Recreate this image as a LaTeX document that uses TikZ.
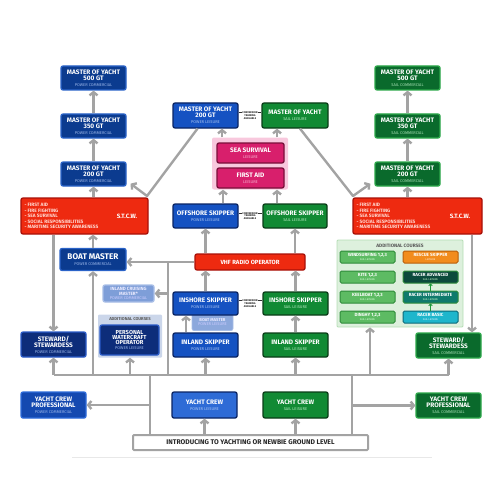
\documentclass[tikz,border=0pt]{standalone}
\usepackage{fontspec}
\setmainfont{Fira Sans}
\usetikzlibrary{arrows.meta,calc}
\definecolor{pcF}{HTML}{0B3B8F}\definecolor{pcD}{HTML}{2A63C8}\definecolor{pcS}{HTML}{9DB8EA}
\definecolor{plF}{HTML}{1552C2}\definecolor{plD}{HTML}{0A2463}\definecolor{plS}{HTML}{A9C4F2}
\definecolor{scF}{HTML}{0A6A2C}\definecolor{scD}{HTML}{2DA84A}\definecolor{scS}{HTML}{A8E0B5}
\definecolor{slF}{HTML}{118A34}\definecolor{slD}{HTML}{0A3D18}\definecolor{slS}{HTML}{B5EBC0}
\definecolor{redF}{HTML}{EE2A10}\definecolor{redD}{HTML}{A81008}\definecolor{listc}{HTML}{FFD9D2}
\definecolor{pinkB}{HTML}{F8C8DD}\definecolor{pinkF}{HTML}{D81F6C}\definecolor{pinkD}{HTML}{7A0F3A}\definecolor{pinkS}{HTML}{F7B6D2}
\definecolor{stwF}{HTML}{0D2D7A}\definecolor{stwD}{HTML}{2A5BC8}
\definecolor{ycF}{HTML}{2E6BD6}\definecolor{ycpF}{HTML}{1449B0}\definecolor{ycpD}{HTML}{2D6BDA}
\definecolor{icmF}{HTML}{7E9ED8}\definecolor{icmD}{HTML}{A8BEE6}\definecolor{bmlF}{HTML}{8CA8DC}
\definecolor{addPB}{HTML}{CBD6EA}\definecolor{addRB}{HTML}{DDF0DD}\definecolor{addRD}{HTML}{B5DDB5}
\definecolor{giF}{HTML}{5DBB63}\definecolor{giD}{HTML}{2E8B3A}
\definecolor{orF}{HTML}{F28C1C}\definecolor{orD}{HTML}{B85E0A}
\definecolor{raF}{HTML}{0C4A3C}\definecolor{riF}{HTML}{0F7A6C}\definecolor{rbF}{HTML}{1EB6CC}\definecolor{rbD}{HTML}{0C6A78}
\definecolor{arr}{HTML}{A3A3A3}\definecolor{sepc}{HTML}{E8E8E8}\definecolor{grarr}{HTML}{1E9A3A}
\colorlet{subc}{white}
\newcommand{\titlef}{\fontsize{6.5}{5.9}\selectfont\bfseries}
\newcommand{\subl}[1]{\\{\fontsize{4}{4.2}\selectfont\mdseries\color{subc}#1}}
\newcommand{\subs}[1]{\\{\fontsize{2.6}{2.7}\selectfont\mdseries\color{subc}#1}}
\tikzset{
 wh/.style 2 args={minimum width=#1pt, minimum height=#2pt},
 box/.style={rectangle, rounded corners=2pt, line width=1.3pt, inner sep=0pt, align=center, text=white, font=\titlef},
 pc/.style={box, fill=pcF, draw=pcD, execute at begin node={\colorlet{subc}{pcS}}},
 pl/.style={box, fill=plF, draw=plD, execute at begin node={\colorlet{subc}{plS}}},
 sc/.style={box, fill=scF, draw=scD, execute at begin node={\colorlet{subc}{scS}}},
 sl/.style={box, fill=slF, draw=slD, execute at begin node={\colorlet{subc}{slS}}},
 redbox/.style={box, fill=redF, draw=redD},
 pinkbg/.style={rectangle, fill=pinkB, rounded corners=2pt},
 pinkbox/.style={box, fill=pinkF, draw=pinkD, execute at begin node={\colorlet{subc}{pinkS}}},
 stw/.style={box, fill=stwF, draw=stwD, execute at begin node={\colorlet{subc}{pcS}}},
 ycp/.style={box, fill=ycpF, draw=ycpD, execute at begin node={\colorlet{subc}{pcS}}},
 yc/.style={box, fill=ycF, draw=plD, execute at begin node={\colorlet{subc}{plS}}},
 icmbox/.style={box, fill=icmF, draw=icmD, text=white!92!blue, font=\fontsize{4.6}{4.4}\selectfont\bfseries, execute at begin node={\colorlet{subc}{white!80!blue}}},
 bmlbox/.style={box, line width=0.8pt, fill=bmlF, draw=icmD, text=white!92!blue, font=\fontsize{4.2}{4}\selectfont\bfseries, execute at begin node={\colorlet{subc}{white!80!blue}}},
 addPbg/.style={rectangle, fill=addPB, rounded corners=1pt},
 addRbg/.style={rectangle, fill=addRB, draw=addRD, line width=0.8pt, rounded corners=1pt},
 addtitle/.style={inner sep=0pt, text=black!65, font=\fontsize{4.8}{5}\selectfont\bfseries},
 item/.style={rectangle, rounded corners=1.5pt, line width=1pt, inner sep=0pt, align=center, text=white, minimum width=55pt, minimum height=12pt, font=\fontsize{4.5}{3.9}\selectfont\bfseries},
 gitem/.style={item, fill=giF, draw=giD, execute at begin node={\colorlet{subc}{white!85!green}}},
 oritem/.style={item, fill=orF, draw=orD, execute at begin node={\colorlet{subc}{white!85!orange}}},
 raitem/.style={item, fill=raF, draw=giD, execute at begin node={\colorlet{subc}{white!80!green}}},
 riitem/.style={item, fill=riF, draw=giD, execute at begin node={\colorlet{subc}{white!80!green}}},
 rbitem/.style={item, fill=rbF, draw=rbD, execute at begin node={\colorlet{subc}{white!85!cyan}}},
 listf/.style={inner sep=0pt, align=left, text=listc, font=\fontsize{4.8}{5.4}\selectfont\bfseries},
 stcwt/.style={inner sep=0pt, text=white, font=\fontsize{6.2}{6}\selectfont\bfseries},
 convt/.style={inner sep=0.4pt, fill=white, align=center, text=black!85, font=\fontsize{2.6}{2.9}\selectfont\bfseries},
 convl/.style={draw=black!80, line width=0.4pt},
 intro/.style={rectangle, fill=white, draw=arr, line width=2pt, rounded corners=1pt, inner sep=0pt, text=black!85, font=\fontsize{6.8}{7}\selectfont\bfseries},
 conn/.style={draw=arr, line width=2.4pt, line join=round, -{Straight Barb[length=3.2pt,width=8pt]}},
 lin/.style={draw=arr, line width=2.4pt, line join=round},
 gconn/.style={draw=grarr, line width=1pt, -{Straight Barb[length=1.5pt,width=3.5pt]}},
 sepl/.style={draw=sepc, line width=0.8pt}
}
\begin{document}
\begin{tikzpicture}[x=1pt,y=-1pt]
\useasboundingbox (0,0) rectangle (500,500);
% separator
\coordinate (sepA) at (72,457); \coordinate (sepB) at (432,457);
\draw[sepl] (sepA) -- (sepB);
% panels
\node[pinkbg, wh={76}{52}] (pinkp) at (250,163.5) {};
\node[addRbg, wh={126}{87}] (addR) at (400,283.5) {};
\node[addPbg, wh={64}{43}] (addP) at (130,336) {};
% commercial columns
\node[pc, wh={65}{24}] (pc500) at (93.5,78) {MASTER OF YACHT\\500 GT\subl{POWER COMMERCIAL}};
\node[pc, wh={65}{24}] (pc350) at (93.5,126) {MASTER OF YACHT\\350 GT\subl{POWER COMMERCIAL}};
\node[pc, wh={65}{24}] (pc200) at (93.5,174) {MASTER OF YACHT\\200 GT\subl{POWER COMMERCIAL}};
\node[sc, wh={65}{24}] (sc500) at (407.5,78) {MASTER OF YACHT\\500 GT\subl{SAIL COMMERCIAL}};
\node[sc, wh={65}{24}] (sc350) at (407.5,126) {MASTER OF YACHT\\350 GT\subl{SAIL COMMERCIAL}};
\node[sc, wh={65}{24}] (sc200) at (407.5,174) {MASTER OF YACHT\\200 GT\subl{SAIL COMMERCIAL}};
% top middle
\node[pl, wh={65}{25}] (pl200) at (205.5,115.5) {MASTER OF YACHT\\200 GT\subl{POWER LEISURE}};
\node[sl, wh={66}{25}] (sl) at (295,115.5) {MASTER OF YACHT\subl{SAIL LEISURE}};
\draw[convl] ([yshift=2.9pt]pl200.east) -- ([yshift=2.9pt]sl.west);
\node[convt] (conv1) at (250,115.5) {CONVERSION\\TRAINING\\AVAILABLE};
\node[pinkbox, wh={67}{20}] (seas) at (250.5,153) {SEA SURVIVAL\subl{LEISURE}};
\node[pinkbox, wh={67}{20}] (faid) at (250.5,178) {FIRST AID\subl{LEISURE}};
% STCW
\node[redbox, wh={127}{36}] (stcwL) at (84.5,216) {};
\node[listf, anchor=west] (stcwLl) at ([xshift=4pt]stcwL.west) {- FIRST AID\\- FIRE FIGHTING\\- SEA SURVIVAL\\- SOCIAL RESPONSIBILITIES\\- MARITIME SECURITY AWARENESS};
\node[stcwt] (stcwLt) at (127,216) {S.T.C.W.};
\node[redbox, wh={129}{36}] (stcwR) at (417.5,216) {};
\node[listf, anchor=west] (stcwRl) at ([xshift=4pt]stcwR.west) {- FIRST AID\\- FIRE FIGHTING\\- SEA SURVIVAL\\- SOCIAL RESPONSIBILITIES\\- MARITIME SECURITY AWARENESS};
\node[stcwt] (stcwRt) at (460,216) {S.T.C.W.};
% offshore
\node[pl, wh={65}{24}] (offP) at (205.5,216) {OFFSHORE SKIPPER\subl{POWER LEISURE}};
\node[sl, wh={64}{24}] (offS) at (295,216) {OFFSHORE SKIPPER\subl{SAIL LEISURE}};
\draw[convl] ([yshift=2.9pt]offP.east) -- ([yshift=2.9pt]offS.west);
\node[convt] (conv2) at (250,216) {CONVERSION\\TRAINING\\AVAILABLE};
\node[redbox, wh={110}{16}, font=\fontsize{6}{6}\selectfont\bfseries] (vhf) at (250,262) {VHF RADIO OPERATOR};
\node[pc, wh={66}{22}] (bmC) at (93,259.5) {{\fontsize{8.2}{7.4}\selectfont BOAT MASTER}\subl{POWER COMMERCIAL}};
% additional courses sail
\node[addtitle] (addRt) at (400,245.5) {ADDITIONAL COURSES};
\node[gitem] (wind) at (367.5,257) {WINDSURFING 1,2,3\subs{SAIL LEISURE}};
\node[gitem] (kite) at (367.5,277) {KITE 1,2,3\subs{SAIL LEISURE}};
\node[gitem] (keel) at (367.5,297) {KEELBOAT 1,2,3\subs{SAIL LEISURE}};
\node[gitem] (ding) at (367.5,317) {DINGHY 1,2,3\subs{SAIL LEISURE}};
\node[oritem] (resc) at (430.5,257) {RESCUE SKIPPER\subs{LEISURE}};
\node[raitem] (racA) at (430.5,277) {RACER ADVANCED\subs{SAIL LEISURE}};
\node[riitem] (racI) at (430.5,297) {RACER INTERMEDIATE\subs{SAIL LEISURE}};
\node[rbitem] (racB) at (430.5,317) {RACER BASIC\subs{SAIL LEISURE}};
\draw[gconn] (racB.north) -- (racI.south);
\draw[gconn] (racI.north) -- (racA.south);
% power lower
\node[icmbox, wh={51}{17}] (icm) at (128.5,293.5) {INLAND CRUISING\\MASTER*\subl{POWER COMMERCIAL}};
\node[addtitle, font=\fontsize{4.2}{4}\selectfont\bfseries] (addPt) at (130,319.5) {ADDITIONAL COURSES};
\node[stw, wh={59}{30}, font=\fontsize{5.8}{5.1}\selectfont\bfseries] (pwc) at (129.5,340) {PERSONAL\\WATERCRAFT\\OPERATOR\subl{POWER LEISURE}};
\node[bmlbox, wh={41}{17}] (bmL) at (212.5,322) {BOAT MASTER\subl{POWER LEISURE}};
\node[pl, wh={65}{23}] (inshP) at (205.5,303.5) {INSHORE SKIPPER\subl{POWER LEISURE}};
\node[pl, wh={65}{24}] (inlP) at (205.5,345) {INLAND SKIPPER\subl{POWER LEISURE}};
\node[sl, wh={65}{23}] (inshS) at (295.5,303.5) {INSHORE SKIPPER\subl{SAIL LEISURE}};
\node[sl, wh={65}{24}] (inlS) at (295.5,345) {INLAND SKIPPER\subl{SAIL LEISURE}};
\draw[convl] ([yshift=2.9pt]inshP.east) -- ([yshift=2.9pt]inshS.west);
\node[convt] (conv3) at (250,303.5) {CONVERSION\\TRAINING\\AVAILABLE};
\node[stw, wh={65}{25}] (stwP) at (53.5,344.5) {STEWARD/\\STEWARDESS\subl{POWER COMMERCIAL}};
\node[sc, wh={65}{25}] (stwS) at (448.5,345.5) {STEWARD/\\STEWARDESS\subl{SAIL COMMERCIAL}};
% bottom
\node[ycp, wh={65}{26}] (ycpP) at (53.5,405) {YACHT CREW\\PROFESSIONAL\subl{POWER COMMERCIAL}};
\node[yc, wh={65}{26}] (ycP) at (204.5,405) {YACHT CREW\subl{POWER LEISURE}};
\node[sl, wh={65}{26}] (ycS) at (295.5,405) {YACHT CREW\subl{SAIL LEISURE}};
\node[sc, wh={65}{25}] (ycpS) at (448.5,405.5) {YACHT CREW\\PROFESSIONAL\subl{SAIL COMMERCIAL}};
\node[intro, wh={235}{15}] (intro) at (250.5,442.5) {INTRODUCING TO YACHTING OR NEWBIE GROUND LEVEL};
% coordinates
\coordinate (busL) at (53.5,375); \coordinate (busR) at (448.5,375);
\coordinate (jA) at (150,375); \coordinate (jB) at (352,375);
\coordinate (vB) at (168,375); \coordinate (vT) at (168,262);
\coordinate (jL) at (147,196); \coordinate (jR) at (353,196);
% connectors
\draw[lin] (busL) -- (busR);
\draw[conn] (busL) -- (stwP.south);
\draw[conn] (bmC.south |- busL) -- (bmC.south);
\draw[conn] (addP.south |- busL) -- (addP.south);
\draw[conn] (inlP.south |- busL) -- (inlP.south);
\draw[conn] (inlS.south |- busL) -- (inlS.south);
\draw[conn] ([xshift=-30pt]addR.south |- busL) -- ([xshift=-30pt]addR.south);
\draw[conn] (stwS.south |- busL) -- (stwS.south);
\draw[lin] (jA) -- (jA |- intro.north);
\draw[lin] (jB) -- (jB |- intro.north);
\draw[conn] (jA |- ycpP.east) -- (ycpP.east);
\draw[conn] (jB |- ycpS.west) -- (ycpS.west);
\draw[conn] (ycP.south |- intro.north) -- (ycP.south);
\draw[conn] (ycS.south |- intro.north) -- (ycS.south);
\draw[lin] (vB) -- (vT);
\draw[conn] (vhf.west) -- (bmC.east |- vhf.west);
\draw[conn] (vT |- icm.east) -- (icm.east);
\draw[conn] ([xshift=-19.5pt]inlP.north) -- ([xshift=-19.5pt]inshP.south);
\draw[conn] (inlS.north) -- (inshS.south);
\draw[conn] (inshP.north) -- (inshP.north |- vhf.south);
\draw[conn] (inshS.north) -- (inshS.north |- vhf.south);
\draw[conn] (offP.south |- vhf.north) -- (offP.south);
\draw[conn] (offS.south |- vhf.north) -- (offS.south);
\draw[conn] ([xshift=17.5pt]offP.north) -- ([xshift=17.5pt]offP.north |- pinkp.south);
\draw[conn] ([xshift=-18pt]offS.north) -- ([xshift=-18pt]offS.north |- pinkp.south);
\draw[conn] ([xshift=-28pt]pinkp.north) -- ([xshift=-28pt]pinkp.north |- pl200.south);
\draw[conn] ([xshift=27pt]pinkp.north) -- ([xshift=27pt]pinkp.north |- sl.south);
\draw[conn] (pc200.south |- stcwL.north) -- (pc200.south);
\draw[conn] (sc200.south |- stcwR.north) -- (sc200.south);
\draw[conn] (bmC.north) -- (bmC.north |- stcwL.south);
\draw[conn] (stwP.north |- stcwL.south) -- (stwP.north);
\draw[conn] ([xshift=23.5pt]stwS.north |- stcwR.south) -- ([xshift=23.5pt]stwS.north);
\draw[conn] (pc200.north) -- (pc350.south);
\draw[conn] (pc350.north) -- (pc500.south);
\draw[conn] (sc200.north) -- (sc350.south);
\draw[conn] (sc350.north) -- (sc500.south);
\draw[conn] ([xshift=-8pt]pl200.south) -- (jL) -- ([xshift=4pt,yshift=3pt]pc200.south east);
\draw[conn] ([xshift=5pt]sl.south) -- (jR) -- ([xshift=-4pt,yshift=3pt]sc200.south west);
\end{tikzpicture}
\end{document}
